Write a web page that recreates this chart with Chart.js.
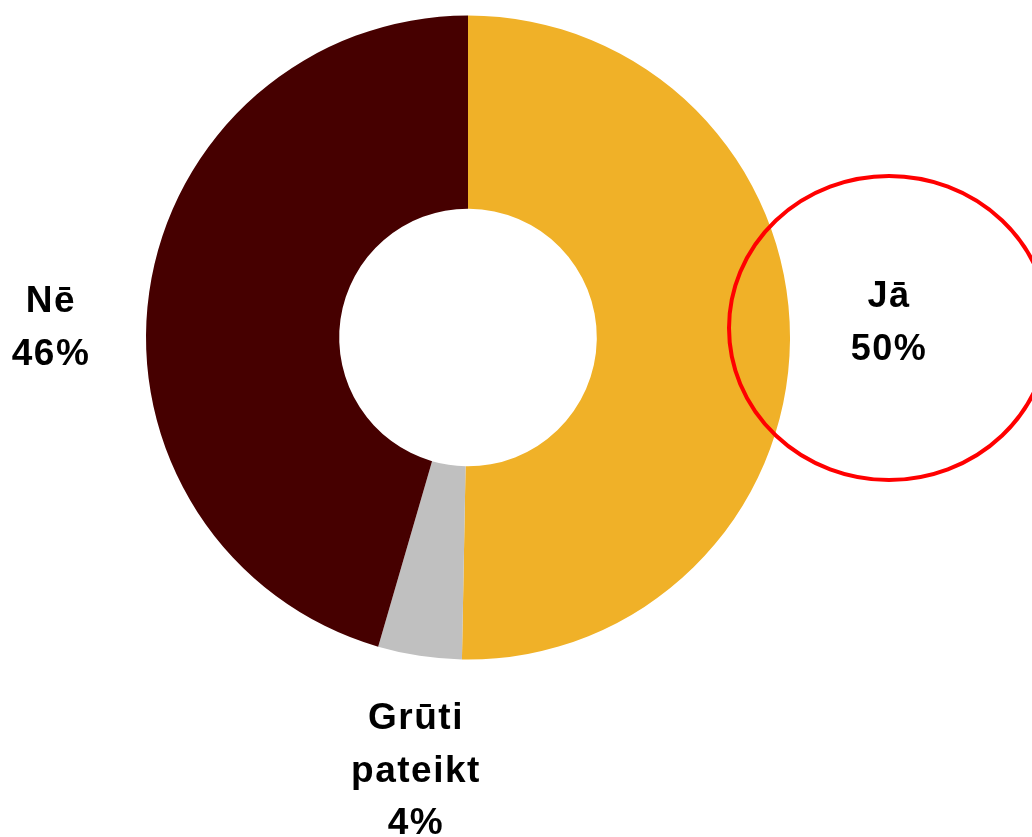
<!DOCTYPE html>
<html>
<head>
<meta charset="utf-8">
<script src="https://cdn.jsdelivr.net/npm/chart.js@4.4.0/dist/chart.umd.min.js"></script>
<style>
  html, body { margin: 0; padding: 0; background: #ffffff; }
  #wrap { position: relative; width: 1032px; height: 837px; overflow: hidden; }
</style>
</head>
<body>
<div id="wrap"><canvas id="pieChart" width="1032" height="837"></canvas></div>
<script>
// answers, clockwise from the top
var labels = ['Jā', 'Grūti pateikt', 'Nē'];
var values = [50.3, 4.2, 45.5];
var colors = ['#F0B128', '#C0C0C0', '#460000'];

// label text lines (name split over lines, percent added below)
var nameLines = [['Jā'], ['Grūti', 'pateikt'], ['Nē']];

// where each label block goes: x centre, baseline of first line, font size
var labelPlace = [
    { x: 888, y: 307, size: 36 },
    { x: 415, y: 729, size: 37 },
    { x: 50, y: 312, size: 37 }
];

var sliceLabels = {
    id: 'sliceLabels',
    afterDraw: function (chart) {
        var ctx = chart.ctx;
        var data = chart.data.datasets[0].data;
        ctx.save();
        ctx.fillStyle = '#000000';
        ctx.textAlign = 'center';
        ctx.textBaseline = 'alphabetic';
        if ('letterSpacing' in ctx) ctx.letterSpacing = '1.5px';
        for (var i = 0; i < nameLines.length; i++) {
            var lines = nameLines[i].concat([Math.round(data[i]) + '%']);
            ctx.font = 'bold ' + labelPlace[i].size + 'px "Liberation Sans", Arial, sans-serif';
            for (var j = 0; j < lines.length; j++) {
                ctx.fillText(lines[j], labelPlace[i].x + 1, labelPlace[i].y + j * 52.5);
            }
        }
        ctx.restore();
    }
};

// red ring drawn round the "Jā" answer
var highlight = {
    id: 'highlight',
    afterDraw: function (chart) {
        var ctx = chart.ctx;
        ctx.save();
        ctx.strokeStyle = '#FF0000';
        ctx.lineWidth = 4;
        ctx.beginPath();
        ctx.ellipse(889, 328, 160, 152, 0, 0, Math.PI * 2);
        ctx.stroke();
        ctx.restore();
    }
};

var ctx = document.getElementById('pieChart').getContext('2d');
var myChart = new Chart(ctx, {
    type: 'doughnut',
    data: {
        labels: labels,
        datasets: [{
            data: values,
            backgroundColor: colors,
            borderWidth: 0,
            hoverOffset: 0
        }]
    },
    options: {
        responsive: false,
        animation: false,
        cutout: '40%',
        layout: {
            padding: { left: 146, right: 242, top: 15, bottom: 177 }
        },
        plugins: {
            legend: { display: false },
            tooltip: { enabled: false }
        }
    },
    plugins: [sliceLabels, highlight]
});
</script>
</body>
</html>
